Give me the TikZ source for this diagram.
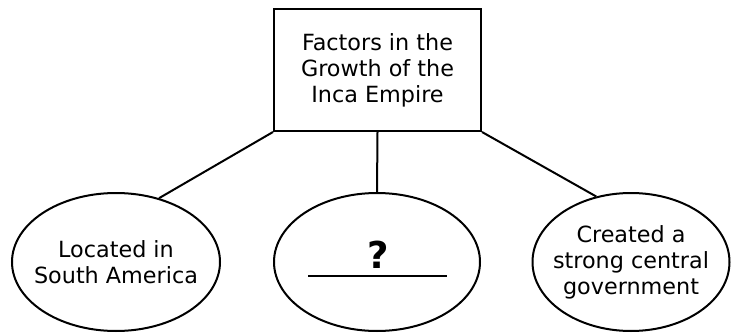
\documentclass[tikz,border=0pt]{standalone}
\usepackage{fontspec}
\setmainfont{DejaVu Sans}
\usetikzlibrary{shapes.geometric}
\begin{document}
\begin{tikzpicture}[x=1pt,y=1pt,
  every node/.style={font=\fontsize{22.3}{26}\selectfont, align=center, inner sep=0pt},
  topbox/.style={draw, line width=2pt, minimum width=207pt, minimum height=122pt},
  oval/.style={draw, ellipse, line width=2pt, minimum height=138pt},
  link/.style={line width=2pt}]
\useasboundingbox (0,0) rectangle (731,333);
\node[topbox] (top) at (377.5,263) {Factors in the\\Growth of the\\Inca Empire};
\node[oval, minimum width=208pt] (left) at (116,71) {};
\node[oval, minimum width=206pt] (mid) at (377,71) {};
\node[oval, minimum width=197pt] (right) at (631,71) {};
\node (lefttext) at (left.center) {Located in\\South America};
\node (righttext) at (right.center) {Created a\\strong central\\government};
\node[font=\fontsize{37}{37}\selectfont\bfseries] (q) at (378,78) {?};
\coordinate (ua) at (308,57);
\coordinate (ub) at (447,57);
\draw[line width=1.8pt] (ua) -- (ub);
\draw[link] (top.south west) -- (left.56);
\draw[link] (top.south) -- (mid.north);
\draw[link] (top.south east) -- (right.118);
\end{tikzpicture}
\end{document}
